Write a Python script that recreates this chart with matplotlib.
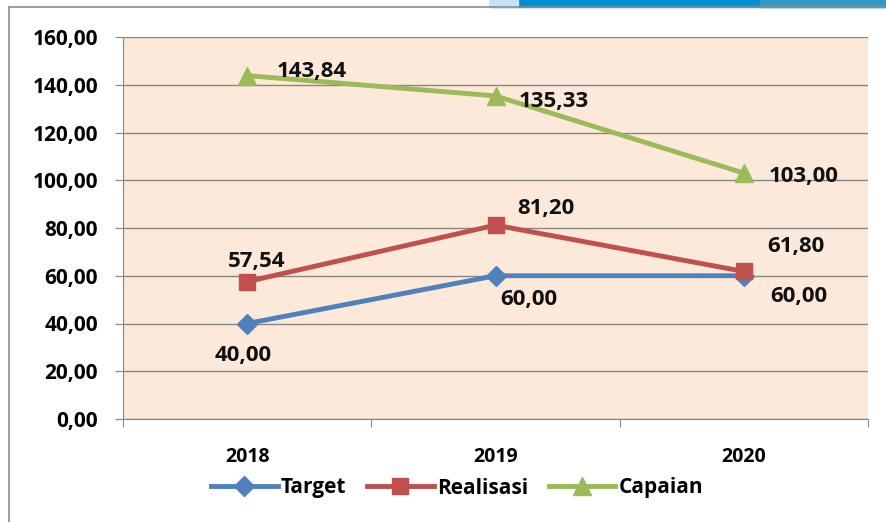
import matplotlib.pyplot as plt
from matplotlib.patches import Rectangle
from matplotlib.lines import Line2D

years = ["2018", "2019", "2020"]
target = [40.00, 60.00, 60.00]
realisasi = [57.54, 81.20, 61.80]
capaian = [143.84, 135.33, 103.00]
yticks = [0, 20, 40, 60, 80, 100, 120, 140, 160]

plt.rcParams['font.family'] = ['Open Sans', 'DejaVu Sans']
plt.rcParams['font.weight'] = 'bold'

W, H = 886, 522
fig = plt.figure(figsize=(W / 100, H / 100), dpi=100)

# slide decoration / chart frame
fig.patches.append(Rectangle((490 / W, 1 - 7 / H), 396 / W, 7 / H, transform=fig.transFigure,
                             color='#0090D6', zorder=0))
fig.patches.append(Rectangle((490 / W, 1 - 7 / H), 28 / W, 7 / H, transform=fig.transFigure,
                             color='#C6E3F4', zorder=1))
fig.patches.append(Rectangle((760 / W, 1 - 7 / H), 126 / W, 7 / H, transform=fig.transFigure,
                             color='#3198C9', zorder=1))
fig.add_artist(Line2D([9 / W, 9 / W], [0, 1 - 7 / H], color='#8C8C8C', lw=1.2))
fig.add_artist(Line2D([9 / W, 1], [1 - 7 / H, 1 - 7 / H], color='#8C8C8C', lw=1.2))

ax = fig.add_axes([123 / W, 1 - 419 / H, 745 / W, 382 / H])
ax.set_facecolor('#FDE9D9')

x = [0.5, 1.5, 2.5]
ax.plot(x, target, color='#4F81BD', lw=3.5, marker='D', ms=10, label='Target', zorder=3)
ax.plot(x, realisasi, color='#C0504D', lw=3.5, marker='s', ms=12, label='Realisasi', zorder=3)
ax.plot(x, capaian, color='#9BBB59', lw=3.5, marker='^', ms=13, label='Capaian', zorder=3)

ax.set_xlim(0, 3)
ax.set_ylim(0, 160)
ax.set_yticks(yticks)
ax.set_yticklabels([f"{v:.2f}".replace('.', ',') for v in yticks], fontsize=15, fontweight='bold')
ax.set_xticks([0, 1, 2, 3])
ax.set_xticklabels([])
ax.set_xticks(x, minor=True)
ax.set_xticklabels(years, minor=True, fontsize=14, fontweight='bold')
ax.tick_params(axis='x', which='minor', length=0, pad=20)
ax.tick_params(axis='x', which='major', length=6, color='#868686')
ax.tick_params(axis='y', length=6, color='#868686', pad=12)
ax.grid(axis='y', color='#868686', lw=1)
ax.set_axisbelow(True)
for s in ['top', 'right']:
    ax.spines[s].set_visible(False)
for s in ['left', 'bottom']:
    ax.spines[s].set_color('#868686')


def fmt(v):
    return f"{v:.2f}".replace('.', ',')


lab = dict(fontsize=16, fontweight='bold', color='#111111', ha='center', va='center',
           textcoords='offset pixels')
offsets_t = [(-4, -32), (33, -24), (55, -21)]
offsets_r = [(9, 20), (50, 17), (52, 25)]
offsets_c = [(65, 4), (58, -6), (60, -3)]
for xi, v, o in zip(x, target, offsets_t):
    ax.annotate(fmt(v), (xi, v), xytext=o, **lab)
for xi, v, o in zip(x, realisasi, offsets_r):
    ax.annotate(fmt(v), (xi, v), xytext=o, **lab)
for xi, v, o in zip(x, capaian, offsets_c):
    ax.annotate(fmt(v), (xi, v), xytext=o, **lab)

fig.legend(*ax.get_legend_handles_labels(), loc='center', bbox_to_anchor=(457 / W, 1 - 488 / H),
           ncol=3, frameon=False, prop={'size': 15, 'weight': 'bold'},
           handlelength=3.2, columnspacing=1.0, handletextpad=0.15)

fig.savefig('out.png', dpi=100)
